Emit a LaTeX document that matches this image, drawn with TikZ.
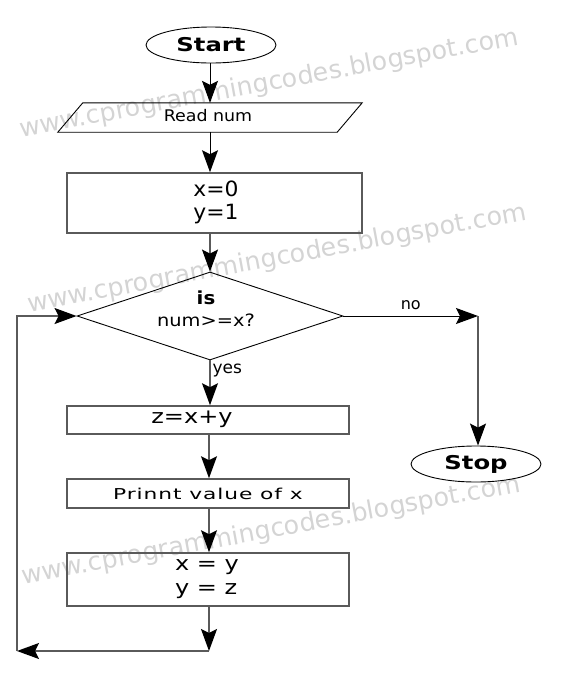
\documentclass[tikz,border=0pt]{standalone}
\usepackage{fontspec}
\setmainfont{DejaVu Sans}
\usetikzlibrary{arrows.meta,shapes.geometric}
\definecolor{ln}{HTML}{5A5A5A}
\definecolor{wm}{HTML}{D4D4D4}
\newcommand{\myfs}[4]{\fontsize{#1pt}{#2pt}\selectfont\addfontfeature{FakeStretch=#3,LetterSpace=#4}}
\tikzset{
  conn/.style={draw=ln, line width=1.3pt, -{Stealth[length=22pt,width=16pt,inset=4pt,black]}},
  bconn/.style={conn, draw=black, line width=1pt},
  box/.style={draw=ln, line width=1.6pt, rectangle, inner sep=0pt, align=center},
  term/.style={ellipse, draw=black, line width=0.9pt, minimum width=130pt, minimum height=36pt, inner sep=0pt, font=\bfseries\myfs{19}{22}{1.28}{0}},
  decision/.style={diamond, draw=black, line width=0.9pt, minimum width=266pt, minimum height=88pt, inner sep=0pt},
  wmark/.style={text=wm, rotate=10.5, font=\myfs{25.3}{28}{1}{0}, inner sep=0pt},
  lbl/.style={inner sep=2pt}
}
\begin{document}
\begin{tikzpicture}[x=1pt,y=-1pt]
\useasboundingbox (0,0) rectangle (563,681);
% watermark
\node[wmark] (wm1) at (269,84) {www.cprogrammingcodes.blogspot.com};
\node[wmark] (wm2) at (277,259) {www.cprogrammingcodes.blogspot.com};
\node[wmark] (wm3) at (271,531) {www.cprogrammingcodes.blogspot.com};
% nodes
\node[term] (start) at (211,45) {Start};
\node[rectangle, inner sep=0pt, minimum width=279pt, minimum height=29pt] (read) at (210,117.5) {};
\node[inner sep=0pt, font=\myfs{16}{19}{1.09}{0}] (readtxt) at (208,116) {Read num};
\draw[black, line width=0.9pt] ([xshift=12.5pt]read.north west) -- ([xshift=12.5pt]read.north east)
  -- ([xshift=-12.5pt]read.south east) -- ([xshift=-12.5pt]read.south west) -- cycle;
\node[box, minimum width=295pt, minimum height=60pt] (init) at (214.5,203) {};
\node[inner sep=0pt, align=left, font=\myfs{21}{23}{1.04}{0}] (inittxt) at (216,202) {x=0\\y=1};
\node[decision] (dec) at (210,316) {};
\node[align=center, inner sep=0pt, font=\myfs{17}{22}{1.14}{0}] (dectxt) at (206,309) {{\bfseries\myfs{18}{22}{1.1}{0}is}\\num>=x?};
\node[box, minimum width=282pt, minimum height=28pt] (z) at (208,420) {};
\node[inner sep=0pt, font=\myfs{20}{23}{1.2}{0}] (ztxt) at (192,419) {z=x+y};
\node[box, minimum width=282pt, minimum height=29pt, font=\myfs{15}{18}{1.45}{6}] (print) at (208,493.5) {Prinnt value of x};
\node[box, minimum width=282pt, minimum height=53pt] (xy) at (208,579.5) {};
\node[inner sep=0pt, align=left, font=\myfs{20}{24}{1.2}{0}] (xytxt) at (207,579) {x = y\\y = z};
\node[term] (stop) at (476,464) {Stop};
\coordinate (cb) at (209,651);
\coordinate (cl) at (17,651);
\coordinate (cn) at (478,316);
% connectors
\draw[bconn] (start.south -| read.north) -- (read.north);
\draw[bconn] (read.south) -- (read.south |- init.north);
\draw[conn] (init.south -| dec.north) -- (dec.north);
\draw[conn] (dec.south) -- node[pos=0.22, right, lbl, font=\myfs{17}{20}{1}{0}] (yes) {yes} (dec.south |- z.north);
\draw[conn] (z.south -| cb) -- (print.north -| cb);
\draw[conn] (print.south -| cb) -- (xy.north -| cb);
\draw[conn] (xy.south -| cb) -- (cb);
\draw[conn] (cb) -- (cl);
\draw[conn] (cl) |- (dec.west);
\draw[bconn] (dec.east) -- node[pos=0.5, above=4pt, lbl, font=\myfs{16}{19}{1}{0}] (no) {no} (cn);
\draw[conn] (cn) -- (cn |- stop.north);
\end{tikzpicture}
\end{document}
